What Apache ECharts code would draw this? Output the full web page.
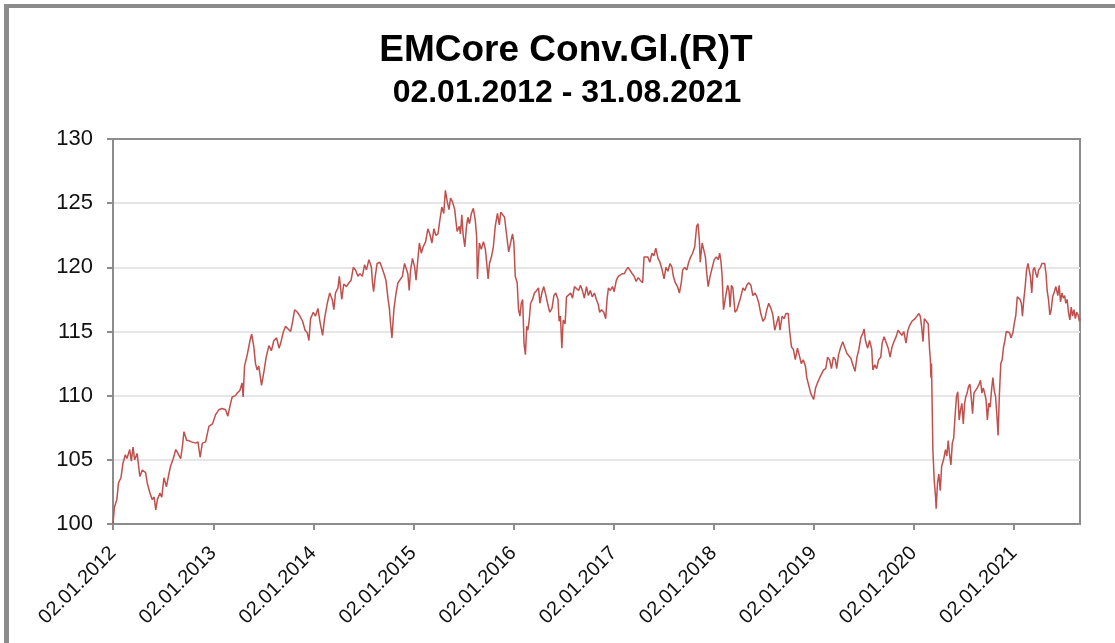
<!DOCTYPE html>
<html>
<head>
<meta charset="utf-8">
<script src="https://cdn.jsdelivr.net/npm/echarts@6/dist/echarts.min.js"></script>
<style>
  * { padding: 0; margin: 0 }
  body, html { height: 100%; width: 100%; background: #fff; overflow: hidden }
  #frame {
    position: absolute; left: 4px; top: 4px; width: 1300px; height: 1000px;
    border-left: 5px solid #8c8c8c; border-top: 4px solid #8c8c8c;
  }
  #container { position: absolute; left: 0; top: 0; width: 1115px; height: 643px }
</style>
</head>
<body>
<div id="frame"></div>
<div id="container"></div>
<script>
  const titleText = 'EMCore Conv.Gl.(R)T';
  const subText = '02.01.2012 - 31.08.2021';

  const tickDates = ['2012-01-02', '2013-01-02', '2014-01-02', '2015-01-02', '2016-01-02',
    '2017-01-02', '2018-01-02', '2019-01-02', '2020-01-02', '2021-01-02'];

  // values
  const dates = [
    '2012-01-02', '2012-01-07', '2012-01-16', '2012-01-22', '2012-01-31', '2012-02-07', '2012-02-16', '2012-02-22', '2012-03-03', '2012-03-09',
    '2012-03-15', '2012-03-21', '2012-03-30', '2012-04-09', '2012-04-18', '2012-04-30', '2012-05-06', '2012-05-16', '2012-05-24', '2012-05-31',
    '2012-06-06', '2012-06-12', '2012-06-21', '2012-06-28', '2012-07-06', '2012-07-15', '2012-07-22', '2012-07-30', '2012-08-09', '2012-08-18',
    '2012-08-26', '2012-09-05', '2012-09-11', '2012-09-17', '2012-09-27', '2012-10-05', '2012-10-14', '2012-10-21', '2012-10-30', '2012-11-07',
    '2012-11-15', '2012-11-23', '2012-12-05', '2012-12-17', '2012-12-30',
    '2013-01-10', '2013-01-22', '2013-02-03', '2013-02-16', '2013-02-24', '2013-03-06', '2013-03-12', '2013-03-24', '2013-03-30', '2013-04-09',
    '2013-04-17', '2013-04-21', '2013-04-26', '2013-05-06', '2013-05-16', '2013-05-22', '2013-05-30', '2013-06-05', '2013-06-11', '2013-06-17',
    '2013-06-23', '2013-06-27', '2013-07-06', '2013-07-14', '2013-07-24', '2013-08-02', '2013-08-11', '2013-08-21', '2013-08-30', '2013-09-05',
    '2013-09-15', '2013-09-23', '2013-10-02', '2013-10-11', '2013-10-17', '2013-10-26', '2013-11-05', '2013-11-14', '2013-11-24', '2013-12-03',
    '2013-12-11', '2013-12-17', '2013-12-23',
    '2014-01-02', '2014-01-10', '2014-01-19', '2014-01-26', '2014-02-05', '2014-02-12', '2014-02-22', '2014-03-03', '2014-03-12', '2014-03-18',
    '2014-03-24', '2014-04-02', '2014-04-07', '2014-04-11', '2014-04-16', '2014-04-23', '2014-05-03', '2014-05-12', '2014-05-20', '2014-05-28',
    '2014-06-05', '2014-06-14', '2014-06-21', '2014-06-30', '2014-07-08', '2014-07-15', '2014-07-24', '2014-08-02', '2014-08-06', '2014-08-10',
    '2014-08-16', '2014-08-23', '2014-09-02', '2014-09-09', '2014-09-17', '2014-09-24', '2014-10-02', '2014-10-07', '2014-10-11', '2014-10-16',
    '2014-10-23', '2014-10-31', '2014-11-07', '2014-11-14', '2014-11-23', '2014-12-01', '2014-12-08', '2014-12-13', '2014-12-18', '2014-12-23',
    '2014-12-30',
    '2015-01-07', '2015-01-12', '2015-01-16', '2015-01-24', '2015-01-31', '2015-02-07', '2015-02-16', '2015-02-24', '2015-03-03', '2015-03-11',
    '2015-03-18', '2015-03-25', '2015-04-02', '2015-04-09', '2015-04-16', '2015-04-23', '2015-04-29', '2015-05-06', '2015-05-12', '2015-05-18',
    '2015-05-25', '2015-06-02', '2015-06-06', '2015-06-11', '2015-06-19', '2015-06-23', '2015-06-28', '2015-07-03', '2015-07-09', '2015-07-15',
    '2015-07-20', '2015-07-26', '2015-08-02', '2015-08-09', '2015-08-16', '2015-08-21', '2015-08-24', '2015-08-31', '2015-09-07', '2015-09-15',
    '2015-09-22', '2015-09-27', '2015-10-02', '2015-10-07', '2015-10-14', '2015-10-21', '2015-10-28', '2015-11-05', '2015-11-12', '2015-11-17',
    '2015-11-24', '2015-12-01', '2015-12-08', '2015-12-16', '2015-12-23', '2015-12-30',
    '2016-01-04', '2016-01-09', '2016-01-16', '2016-01-21', '2016-01-26', '2016-01-31', '2016-02-05', '2016-02-10', '2016-02-15', '2016-02-20',
    '2016-02-24', '2016-02-29', '2016-03-05', '2016-03-12', '2016-03-19', '2016-03-27', '2016-04-03', '2016-04-08', '2016-04-15', '2016-04-22',
    '2016-04-30', '2016-05-07', '2016-05-14', '2016-05-22', '2016-05-29', '2016-06-05', '2016-06-13', '2016-06-17', '2016-06-22', '2016-06-27',
    '2016-07-02', '2016-07-09', '2016-07-14', '2016-07-21', '2016-07-29', '2016-08-05', '2016-08-12', '2016-08-19', '2016-08-27', '2016-09-03',
    '2016-09-10', '2016-09-17', '2016-09-25', '2016-10-02', '2016-10-09', '2016-10-16', '2016-10-24', '2016-10-31', '2016-11-07', '2016-11-12',
    '2016-11-19', '2016-11-27', '2016-12-04', '2016-12-09', '2016-12-14', '2016-12-21', '2016-12-29',
    '2017-01-04', '2017-01-12', '2017-01-19', '2017-01-26', '2017-02-02', '2017-02-10', '2017-02-17', '2017-02-24', '2017-03-03', '2017-03-11',
    '2017-03-18', '2017-03-25', '2017-04-02', '2017-04-09', '2017-04-18', '2017-04-23', '2017-04-30', '2017-05-07', '2017-05-14', '2017-05-22',
    '2017-05-29', '2017-06-05', '2017-06-13', '2017-06-20', '2017-06-27', '2017-07-05', '2017-07-12', '2017-07-19', '2017-07-27', '2017-08-03',
    '2017-08-08', '2017-08-15', '2017-08-23', '2017-08-30', '2017-09-06', '2017-09-11', '2017-09-18', '2017-09-26', '2017-10-03', '2017-10-10',
    '2017-10-17', '2017-10-25', '2017-11-01', '2017-11-06', '2017-11-11', '2017-11-14', '2017-11-21', '2017-11-28', '2017-12-03', '2017-12-08',
    '2017-12-13', '2017-12-20', '2017-12-27',
    '2018-01-04', '2018-01-12', '2018-01-19', '2018-01-24', '2018-01-29', '2018-02-02', '2018-02-07', '2018-02-12', '2018-02-17', '2018-02-22',
    '2018-02-27', '2018-03-03', '2018-03-08', '2018-03-13', '2018-03-21', '2018-03-28', '2018-04-04', '2018-04-11', '2018-04-19', '2018-04-26',
    '2018-05-03', '2018-05-10', '2018-05-18', '2018-05-25', '2018-06-02', '2018-06-09', '2018-06-16', '2018-06-23', '2018-07-01', '2018-07-08',
    '2018-07-15', '2018-07-22', '2018-07-30', '2018-08-06', '2018-08-13', '2018-08-20', '2018-08-27', '2018-09-01', '2018-09-09', '2018-09-16',
    '2018-09-23', '2018-10-01', '2018-10-06', '2018-10-13', '2018-10-20', '2018-10-27', '2018-11-04', '2018-11-11', '2018-11-18', '2018-11-25',
    '2018-12-03', '2018-12-08', '2018-12-15', '2018-12-22',
    '2019-01-02', '2019-01-09', '2019-01-16', '2019-01-24', '2019-01-31', '2019-02-07', '2019-02-15', '2019-02-22', '2019-03-01', '2019-03-08',
    '2019-03-15', '2019-03-22', '2019-03-27', '2019-04-03', '2019-04-11', '2019-04-18', '2019-04-25', '2019-05-03', '2019-05-10', '2019-05-18',
    '2019-05-25', '2019-06-02', '2019-06-09', '2019-06-16', '2019-06-23', '2019-07-01', '2019-07-05', '2019-07-10', '2019-07-18', '2019-07-25',
    '2019-08-02', '2019-08-06', '2019-08-13', '2019-08-20', '2019-08-27', '2019-09-04', '2019-09-09', '2019-09-16', '2019-09-23', '2019-10-01',
    '2019-10-08', '2019-10-15', '2019-10-22', '2019-10-30', '2019-11-06', '2019-11-13', '2019-11-20', '2019-11-27', '2019-12-05', '2019-12-12',
    '2019-12-19', '2019-12-27',
    '2020-01-07', '2020-01-14', '2020-01-21', '2020-01-26', '2020-01-31', '2020-02-05', '2020-02-10', '2020-02-17', '2020-02-24', '2020-02-29',
    '2020-03-03', '2020-03-05', '2020-03-07', '2020-03-10', '2020-03-12', '2020-03-17', '2020-03-22', '2020-03-24', '2020-03-29', '2020-04-03',
    '2020-04-08', '2020-04-13', '2020-04-20', '2020-04-27', '2020-05-02', '2020-05-07', '2020-05-12', '2020-05-17', '2020-05-22', '2020-05-27',
    '2020-06-01', '2020-06-06', '2020-06-11', '2020-06-16', '2020-06-21', '2020-06-26', '2020-07-01', '2020-07-06', '2020-07-10', '2020-07-15',
    '2020-07-20', '2020-07-25', '2020-07-30', '2020-08-04', '2020-08-09', '2020-08-16', '2020-08-21', '2020-08-28', '2020-09-02', '2020-09-07',
    '2020-09-12', '2020-09-17', '2020-09-22', '2020-09-27', '2020-10-02', '2020-10-07', '2020-10-12', '2020-10-17', '2020-10-22', '2020-10-27',
    '2020-11-01', '2020-11-05', '2020-11-10', '2020-11-15', '2020-11-20', '2020-11-25', '2020-11-30', '2020-12-05', '2020-12-10', '2020-12-17',
    '2020-12-22', '2020-12-29',
    '2021-01-02', '2021-01-09', '2021-01-14', '2021-01-19', '2021-01-24', '2021-01-29', '2021-02-02', '2021-02-07', '2021-02-12', '2021-02-17',
    '2021-02-22', '2021-02-27', '2021-03-03', '2021-03-08', '2021-03-13', '2021-03-18', '2021-03-23', '2021-03-28', '2021-04-02', '2021-04-09',
    '2021-04-14', '2021-04-19', '2021-04-24', '2021-04-29', '2021-05-03', '2021-05-08', '2021-05-13', '2021-05-18', '2021-05-23', '2021-05-28',
    '2021-06-04', '2021-06-11', '2021-06-16', '2021-06-21', '2021-06-26', '2021-07-01', '2021-07-06', '2021-07-10', '2021-07-15', '2021-07-20',
    '2021-07-25', '2021-07-30', '2021-08-04', '2021-08-09', '2021-08-14', '2021-08-19', '2021-08-24', '2021-08-29', '2021-08-31'
  ];

  const values = [
    100.0, 101.3, 101.9, 103.2, 103.6, 104.7, 105.4, 105.1, 105.8, 104.9,
    106.0, 105.0, 105.5, 103.7, 104.2, 104.0, 103.2, 102.4, 101.9, 102.1,
    101.1, 101.9, 102.4, 102.1, 103.6, 102.9, 103.7, 104.5, 105.1, 105.8,
    105.5, 105.1, 106.0, 107.2, 106.5, 106.5, 106.4, 106.4, 106.3, 106.4,
    105.2, 106.3, 106.4, 107.6, 107.8,
    108.5, 108.9, 109.0, 108.9, 108.4, 109.4, 109.9, 110.0, 110.2, 110.4,
    111.0, 109.9, 112.3, 113.2, 114.3, 114.8, 113.8, 112.5, 112.0, 112.3,
    111.4, 110.8, 111.9, 113.0, 113.9, 113.5, 114.3, 114.5, 113.7, 114.1,
    115.0, 115.4, 115.2, 115.0, 115.6, 116.7, 116.5, 116.2, 115.8, 115.1,
    114.9, 114.3, 116.0,
    116.5, 116.2, 116.8, 115.8, 114.7, 116.0, 117.2, 118.0, 117.5, 116.7,
    118.0, 118.4, 119.3, 118.5, 117.5, 118.7, 118.5, 118.8, 119.0, 120.0,
    119.8, 119.3, 119.5, 119.3, 120.2, 119.8, 120.6, 120.0, 118.8, 118.1,
    119.3, 120.3, 120.4, 120.0, 119.5, 119.0, 117.5, 116.7, 115.6, 114.5,
    116.7, 118.0, 118.8, 118.9, 119.3, 120.3, 120.4, 119.5, 118.2, 119.8,
    120.7,
    120.0, 119.0, 120.0, 121.9, 121.1, 121.6, 122.0, 123.0, 122.6, 121.9,
    123.0, 122.5, 122.6, 123.7, 124.7, 124.2, 126.0, 125.1, 124.5, 125.4,
    125.1, 124.5, 123.7, 122.8, 123.2, 122.6, 124.1, 122.5, 121.6, 123.2,
    123.9, 123.4, 124.2, 124.6, 123.7, 122.4, 119.1, 121.9, 121.4, 122.0,
    121.4, 120.3, 119.1, 120.3, 120.8, 121.6, 123.2, 124.2, 123.3, 124.3,
    124.3, 123.9, 122.6, 121.2, 121.9, 122.6,
    121.9, 119.3, 118.8, 116.7, 116.2, 117.2, 117.5, 114.1, 113.2, 115.4,
    115.1, 115.9, 117.2, 117.5, 118.0, 118.2, 118.4, 117.2, 118.0, 118.5,
    117.8, 117.1, 116.5, 116.8, 117.8, 118.0, 117.5, 115.8, 116.2, 113.7,
    115.9, 115.6, 117.7, 117.8, 118.0, 117.6, 118.5, 118.5, 118.2, 118.6,
    118.2, 117.6, 118.5, 117.8, 118.2, 117.7, 118.0, 117.5, 117.1, 116.5,
    116.7, 116.5, 116.0, 117.5, 118.4, 118.2, 118.5,
    118.1, 119.0, 119.3, 119.2, 119.5, 119.5, 119.8, 120.0, 120.0, 119.5,
    119.3, 118.9, 119.2, 119.0, 118.8, 120.8, 120.9, 120.8, 120.4, 121.1,
    120.9, 121.5, 120.7, 120.4, 119.9, 119.1, 120.0, 119.7, 120.3, 120.0,
    119.3, 118.8, 118.5, 118.0, 118.8, 119.8, 120.0, 119.8, 120.4, 120.8,
    121.1, 121.6, 123.2, 123.4, 122.1, 120.4, 121.9, 122.0, 120.8, 119.5,
    118.5, 119.3, 119.3,
    120.6, 120.8, 120.6, 121.1, 120.4, 119.3, 116.7, 116.8, 118.0, 118.6,
    118.2, 116.9, 118.6, 118.4, 116.5, 116.7, 117.2, 117.7, 118.4, 118.2,
    118.6, 118.8, 118.6, 117.8, 118.0, 117.7, 117.2, 116.4, 115.8, 116.0,
    116.7, 117.2, 116.8, 116.3, 115.1, 115.2, 116.2, 115.1, 116.2, 116.0,
    116.4, 116.4, 115.1, 113.8, 113.6, 112.8, 113.7, 113.6, 112.5, 112.8,
    112.3, 111.4, 110.8, 110.2,
    109.7, 110.6, 111.0, 111.4, 111.7, 112.0, 112.1, 113.0, 112.8, 112.1,
    113.0, 112.8, 112.1, 113.2, 113.8, 114.2, 114.1, 113.3, 113.4, 112.9,
    112.4, 111.9, 113.0, 113.6, 114.5, 114.9, 115.2, 114.3, 113.7, 114.3,
    113.6, 112.0, 112.4, 112.1, 112.8, 113.0, 114.1, 114.6, 114.7, 113.7,
    113.0, 113.8, 114.2, 114.6, 115.1, 115.0, 114.7, 115.0, 114.1, 115.1,
    115.5, 115.8,
    116.0, 116.0, 116.4, 116.2, 115.4, 114.2, 116.0, 115.9, 115.6, 113.6,
    112.8, 111.4, 112.5, 108.6, 105.8, 103.4, 102.1, 101.2, 103.2, 103.9,
    102.6, 104.5, 105.0, 105.8, 105.3, 106.5, 105.4, 104.6, 106.3, 106.7,
    108.4, 109.9, 110.3, 108.1, 108.9, 109.4, 107.8, 109.4, 109.9, 110.2,
    110.7, 110.9, 109.9, 108.6, 110.2, 110.2, 110.6, 110.9, 111.2, 110.2,
    110.6, 110.2, 109.7, 108.1, 109.4, 109.1, 110.4, 111.4, 110.4, 109.9,
    108.4, 106.9, 110.2, 112.5, 112.8, 113.8, 114.3, 115.0, 115.1, 114.9,
    114.5, 114.9,
    115.5, 116.3, 117.7, 117.8, 117.5, 117.2, 116.2, 117.5, 118.5, 119.8,
    120.3, 120.4, 119.3, 118.0, 119.8, 120.0, 119.5, 119.2, 119.8, 120.0,
    120.3, 120.2, 120.3, 119.5, 118.2, 117.5, 116.3, 116.7, 117.7, 118.0,
    118.5, 117.8, 118.6, 117.3, 118.0, 117.6, 117.8, 117.2, 117.5, 116.5,
    115.9, 116.9, 116.2, 116.7, 116.0, 116.5, 116.3, 115.8, 116.0
  ];

  const yMin = 100, yMax = 130, yStep = 5;

  function toTime(s) {
    const p = s.split('-');
    return new Date(+p[0], +p[1] - 1, +p[2]).getTime();
  }

  function pad(n) { return n < 10 ? '0' + n : '' + n; }

  const tickTimes = tickDates.map(toTime);
  const seriesData = dates.map(function (d, i) { return [toTime(d), values[i]]; });

  const font = 'Liberation Sans, Arial, sans-serif';
  const axisGray = '#8c8c8c';

  const myChart = echarts.init(document.getElementById('container'));
  myChart.setOption({
    animation: false,
    title: [
      {
        text: titleText, left: 561, top: 27, textAlign: 'center',
        textStyle: { fontFamily: font, fontSize: 37, fontWeight: 'bold', color: '#000' }
      },
      {
        text: subText, left: 562, top: 72, textAlign: 'center',
        textStyle: { fontFamily: font, fontSize: 32, fontWeight: 'bold', color: '#000' }
      }
    ],
    grid: {
      left: 113, right: 35, top: 139, bottom: 119,
      show: true, borderColor: axisGray, borderWidth: 2, backgroundColor: '#fff'
    },
    xAxis: {
      // plain value axis holding timestamps, so ticks can sit on 02.01. of each year
      type: 'value',
      min: toTime('2012-01-02'),
      max: toTime('2021-08-31'),
      axisLine: { lineStyle: { color: axisGray, width: 2 } },
      axisTick: { show: true, length: 6, customValues: tickTimes, lineStyle: { color: axisGray, width: 2 } },
      splitLine: { show: false },
      axisLabel: {
        customValues: tickTimes,
        rotate: 45,
        margin: 26,
        fontFamily: font,
        fontSize: 20,
        color: '#111',
        formatter: function (v) {
          const d = new Date(v);
          return pad(d.getDate()) + '.' + pad(d.getMonth() + 1) + '.' + d.getFullYear();
        }
      }
    },
    yAxis: {
      type: 'value',
      min: yMin, max: yMax, interval: yStep,
      axisLine: { show: true, lineStyle: { color: axisGray, width: 2 } },
      axisTick: { show: true, length: 6, lineStyle: { color: axisGray, width: 2 } },
      splitLine: { show: true, showMaxLine: false, showMinLine: false, lineStyle: { color: '#e6e6e6', width: 2 } },
      axisLabel: { margin: 20, fontFamily: font, fontSize: 22, color: '#111' }
    },
    series: [{
      type: 'line',
      data: seriesData,
      showSymbol: false,
      symbol: 'none',
      lineStyle: { color: '#c0504d', width: 1.5 },
      z: 3
    }]
  });
</script>
</body>
</html>
